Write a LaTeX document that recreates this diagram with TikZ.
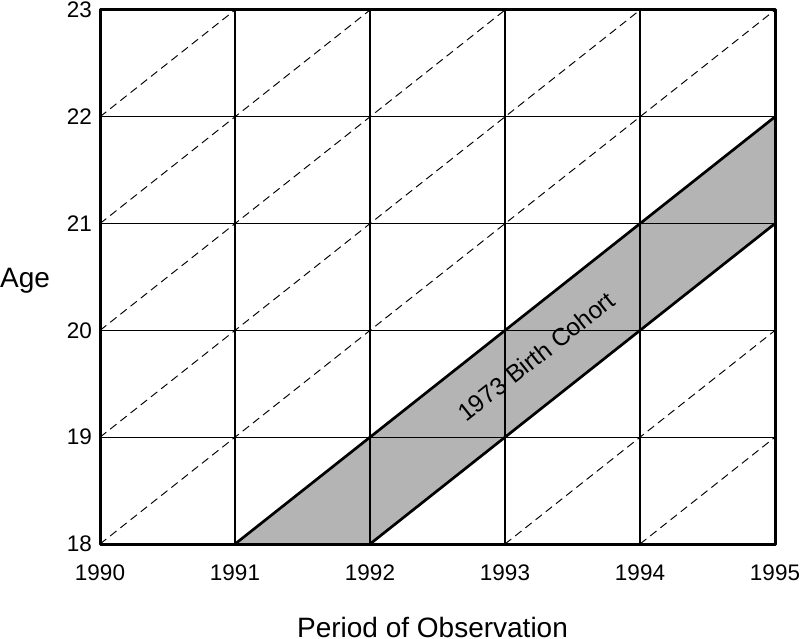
\documentclass[tikz,border=0pt]{standalone}
\usepackage{fontspec}
\setmainfont{Liberation Sans}
\definecolor{bandgray}{RGB}{180,180,180}
\begin{document}
\begin{tikzpicture}[x=1pt,y=-1pt,
  gridline/.style={line width=1.2pt},
  diag/.style={line width=0.95pt, dash pattern=on 8pt off 5pt},
  frame/.style={line width=3pt, line join=round},
  band/.style={line width=2.7pt},
  ticklbl/.style={font=\fontsize{22.5}{22.5}\selectfont, inner sep=0pt},
  axlbl/.style={font=\fontsize{28}{28}\selectfont, inner sep=0pt}]
\useasboundingbox (0,0) rectangle (800,639);
\foreach \i in {0,...,5}{
  \foreach \j in {0,...,5}{
    \coordinate (p\i\j) at ({100+135*\i},{544-106.8*\j});
  }
}
% cohort band
\fill[bandgray] (p10) -- (p20) -- (p53) -- (p54) -- cycle;
% grid
\foreach \i in {1,...,4}{
  \draw[gridline] (p\i0) -- (p\i5);
  \draw[gridline] (p0\i) -- (p5\i);
}
% dashed diagonals
\foreach \k/\m in {0/5,3/2,4/1}{
  \draw[diag] (p\k0) -- (p5\m);
}
\foreach \j/\n in {1/4,2/3,3/2,4/1}{
  \draw[diag] (p0\j) -- (p\n5);
}
% band edges
\draw[band] (p10) -- (p54);
\draw[band] (p20) -- (p53);
% frame
\draw[frame] (p00) rectangle (p55);
% tick labels
\foreach \i/\yr in {0/1990,1/1991,2/1992,3/1993,4/1994,5/1995}{
  \node[ticklbl] (yr\i) at ([yshift=-28.5pt]p\i0) {\yr};
}
\foreach \j/\ag in {0/18,1/19,2/20,3/21,4/22,5/23}{
  \node[ticklbl, anchor=east] (ag\j) at ([xshift=-8pt]p0\j) {\ag};
}
\node[axlbl] (agelbl) at (25,281) {Age};
\node[axlbl, anchor=base] (perlbl) at (432.5,637) {Period of Observation};
\node[font=\fontsize{24.5}{24.5}\selectfont, inner sep=0pt, rotate=38.3] (cohort) at (536,356.5) {1973 Birth Cohort};
\end{tikzpicture}
\end{document}
